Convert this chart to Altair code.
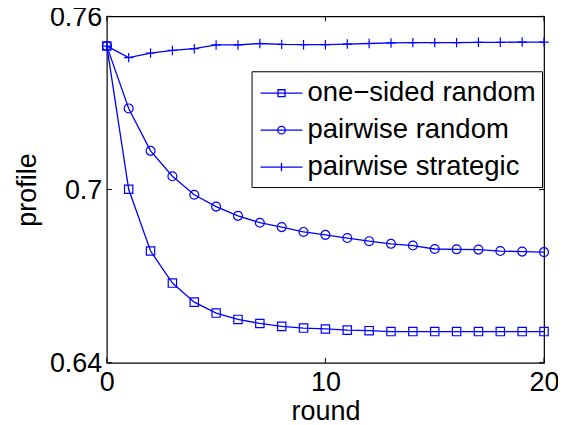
import altair as alt
import pandas as pd

rounds = list(range(21))
one_sided = [0.7497, 0.7001, 0.6787, 0.6676, 0.6610, 0.6572, 0.6550, 0.6536, 0.6526, 0.6520,
             0.6517, 0.6513, 0.6511, 0.6508, 0.6508, 0.6508, 0.6508, 0.6508, 0.6508, 0.6508, 0.6508]
pw_random = [0.7497, 0.7281, 0.7134, 0.7046, 0.6982, 0.6941, 0.6909, 0.6885, 0.6870, 0.6853,
             0.6843, 0.6832, 0.6821, 0.6812, 0.6806, 0.6794, 0.6793, 0.6792, 0.6787, 0.6785, 0.6783]
pw_strategic = [0.7497, 0.7457, 0.7473, 0.7482, 0.7488, 0.7501, 0.7501, 0.7506, 0.7503, 0.7502,
                0.7502, 0.7504, 0.7506, 0.7508, 0.7509, 0.7509, 0.7509, 0.7510, 0.7510, 0.7511, 0.7511]
series_names = ["one\u2212sided random", "pairwise random", "pairwise strategic"]
x_ticks = [0, 10, 20]
y_ticks = [0.64, 0.7, 0.76]

rows = []
for name, vals in zip(series_names, [one_sided, pw_random, pw_strategic]):
    for r, v in zip(rounds, vals):
        rows.append({"round": r, "profile": v, "series": name})
df = pd.DataFrame(rows)

W, H = 438, 347
BLUE = "#0000ff"
FONT = "Liberation Sans"
FS = 27

xs = alt.Scale(domain=[0, 20], nice=False)
ys = alt.Scale(domain=[0.64, 0.76], nice=False, zero=False)

x_axis = alt.Axis(values=x_ticks, title="round", tickSize=0, labelPadding=7, format="d",
                  grid=False, domain=False, labelFont=FONT, labelFontSize=FS, labelColor="black",
                  titleFont=FONT, titleFontSize=FS, titleColor="black", titleFontWeight="normal",
                  titlePadding=3, labelFlush=False)
y_axis = alt.Axis(values=y_ticks, title="profile", tickSize=0, labelPadding=5, format="~g",
                  grid=False, domain=False, labelFont=FONT, labelFontSize=FS, labelColor="black",
                  labelOffset=1,
                  titleFont=FONT, titleFontSize=FS, titleColor="black", titleFontWeight="normal",
                  titlePadding=8, labelFlush=False)

base = alt.Chart(df)
x_enc = alt.X("round:Q", scale=xs, axis=x_axis)
y_enc = alt.Y("profile:Q", scale=ys, axis=y_axis)

lines = base.mark_line(color=BLUE, strokeWidth=1.3).encode(
    x=x_enc, y=y_enc, detail="series:N")

points = base.mark_point(filled=False, color=BLUE, strokeWidth=1.2, opacity=1).encode(
    x="round:Q", y="profile:Q",
    shape=alt.Shape("series:N", scale=alt.Scale(domain=series_names,
                    range=["square", "circle", "M-1,0H1M0,-1V1"]), legend=None),
    size=alt.Size("series:N", scale=alt.Scale(domain=series_names, range=[70, 90, 110]), legend=None),
)

leg_paths = [
    "M-0.867,0H1.933M0.3,-0.233H0.767V0.233H0.3Z",
    "M-0.867,0H1.933M0.283,0A0.25,0.25 0 1,1 0.783,0A0.25,0.25 0 1,1 0.283,0Z",
    "M-0.867,0H1.933M0.533,-0.27V0.27",
]
legend_layer = base.mark_point(filled=False, color=BLUE, strokeWidth=1.3).encode(
    x="round:Q", y="profile:Q",
    shape=alt.Shape("series:N", scale=alt.Scale(domain=series_names, range=leg_paths),
                    legend=alt.Legend(title=None, orient="none", legendX=145, legendY=55,
                                      strokeColor="black", fillColor="white", padding=6,
                                      symbolSize=900, symbolStrokeColor=BLUE, symbolFillColor="transparent",
                                      symbolStrokeWidth=1.3, symbolOpacity=1,
                                      labelFont=FONT, labelFontSize=27.5, labelColor="black",
                                      rowPadding=7, labelOffset=18, labelLimit=400)),
).transform_filter("false")

tick_x = pd.DataFrame({"xv": x_ticks})
tick_y = pd.DataFrame({"yv": y_ticks})
tk = 5
xt_bottom = alt.Chart(tick_x).mark_rule(color="black", strokeWidth=1).encode(
    x=alt.X("xv:Q", scale=xs), y=alt.value(H), y2=alt.value(H - tk))
xt_top = alt.Chart(tick_x).mark_rule(color="black", strokeWidth=1).encode(
    x=alt.X("xv:Q", scale=xs), y=alt.value(0), y2=alt.value(tk))
yt_left = alt.Chart(tick_y).mark_rule(color="black", strokeWidth=1).encode(
    y=alt.Y("yv:Q", scale=ys), x=alt.value(0), x2=alt.value(tk))
yt_right = alt.Chart(tick_y).mark_rule(color="black", strokeWidth=1).encode(
    y=alt.Y("yv:Q", scale=ys), x=alt.value(W), x2=alt.value(W - tk))

chart = alt.layer(lines, points, xt_bottom, xt_top, yt_left, yt_right, legend_layer).resolve_scale(
    shape="independent", size="independent"
).properties(
    width=W, height=H,
    autosize=alt.AutoSizeParams(type="none"),
    padding={"left": 99, "top": 8, "right": 14, "bottom": 60},
    background="white",
).configure_view(stroke="black", strokeWidth=1.2)

chart.save("out.html", embed_options={"renderer": "svg", "actions": False})
